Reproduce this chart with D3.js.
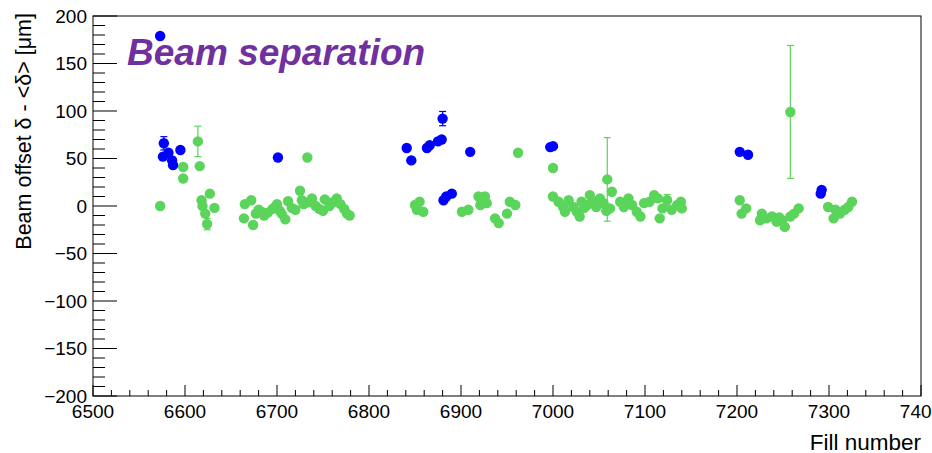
<!DOCTYPE html>
<html>
<head>
<meta charset="utf-8">
<script src="https://cdn.jsdelivr.net/npm/d3@7"></script>
<style>
  body { margin: 0; background: #fff; }
  svg { display: block; font-family: "Liberation Sans", Arial, sans-serif; }
</style>
</head>
<body>
<div id="chart"></div>
<script>
// blue points (fill, offset, error)
const blueFill = [6573, 6577, 6576, 6582, 6586, 6587, 6595, 6701,
    6841, 6846, 6863, 6866, 6875, 6879, 6880, 6910, 6881, 6884, 6890,
    6997, 7000, 7203, 7212, 7291, 7292];
const blueVal = [179, 66, 52, 56, 48, 43, 59, 51,
    61, 48, 61, 64, 68, 70, 92, 57, 6, 10, 13,
    62, 63, 57, 54, 13, 17];
const blueErr = [2, 7, 2, 2, 2, 2, 2, 2,
    2, 2, 2, 2, 2, 2, 7.5, 2, 2, 2, 2,
    2, 2, 2, 2, 2, 2];

// green points
const greenFill = [6573, 6598, 6598, 6614, 6616, 6627, 6618, 6619, 6632, 6622, 6624,
    6664, 6665, 6672, 6674, 6677, 6680, 6686, 6690, 6695, 6700, 6705, 6709, 6712, 6716,
    6720, 6725, 6729, 6733, 6734, 6738, 6742, 6746, 6750, 6752, 6757, 6761, 6765, 6769,
    6773, 6776, 6779, 6683, 6698, 6703, 6727,
    6850, 6855, 6852, 6859, 6901, 6908, 6919, 6926, 6921, 6928, 6937, 6941, 6950, 6953,
    6959, 6962, 6923,
    7000, 7000, 7006, 7011, 7013, 7017, 7022, 7026, 7029, 7031, 7037, 7040, 7044, 7047,
    7051, 7055, 7059, 7062, 7064, 7073, 7077, 7082, 7086, 7091, 7095, 7099, 7105, 7110,
    7114, 7116, 7119, 7124, 7129, 7135, 7139, 7140, 7034, 7049, 7058,
    7203, 7205, 7210, 7225, 7227, 7232, 7238, 7243, 7249, 7252, 7258, 7258, 7262, 7267,
    7299, 7305, 7307, 7312, 7317, 7321, 7325, 7246];
const greenVal = [0, 41, 29, 68, 42, 13, 6, 0, -2, -8, -19,
    -13, 2, 6, -20, -8, -4, -10, -7, -3, 2, -8, -14, 5, -2,
    -4, 16, 2, 51, 4, 8, 0, -3, -5, 7, 0, 4, 8, 2,
    -3, -8, -10, -6, -1, -5, 6,
    1, 4.5, -4, -6, -6, -4, 10, 10, 1, 3, -13, -18, -8, 4.5,
    1, 56, 6,
    40, 10, 4.5, -1, -6, 6, -1, -6, -11, 4.5, 1, 11.5, 4.5, -1,
    8, 3, 28, -2.5, 15, 4.5, -1, 8, 1, -6, -11, 3, 4.5, 11.5,
    8, -13, -2.5, 6, -4, 1, 4.5, -2.5, -2, 2, -5,
    6, -8, -2.5, -15, -8, -13, -11, -16.5, -15, -22, -11, 99, -8, -2.5,
    -1, -13, -4, -8, -4, -1, 4.5, -12];
const greenErr = [2, 2, 2, 16, 2, 2, 2, 2, 2, 2, 6,
    2, 2, 2, 2, 2, 2, 2, 2, 2, 2, 2, 2, 2, 2,
    2, 2, 2, 2, 2, 2, 2, 2, 2, 2, 2, 2, 2, 2,
    2, 2, 2, 2, 2, 2, 2,
    2, 2, 2, 2, 2, 2, 2, 2, 2, 2, 2, 2, 2, 2,
    2, 2, 2,
    2, 2, 2, 2, 2, 2, 2, 2, 2, 2, 2, 2, 2, 2,
    2, 2, 44, 2, 2, 2, 2, 2, 2, 2, 2, 2, 2, 2,
    2, 2, 2, 6, 2, 2, 2, 2, 2, 2, 2,
    2, 2, 2, 2, 2, 2, 2, 2, 2, 2, 2, 70, 2, 2,
    2, 2, 2, 2, 2, 2, 2, 2];

const xTicks = [6500, 6600, 6700, 6800, 6900, 7000, 7100, 7200, 7300, 7400];
const yTicks = [-200, -150, -100, -50, 0, 50, 100, 150, 200];

const width = 932, height = 453;
const margin = {top: 16, right: 11, bottom: 57, left: 93};
const plotW = width - margin.left - margin.right,
    plotH = height - margin.top - margin.bottom;

const blueColor = "#0000ff",
    greenColor = "#5ad45a";

let x = d3.scaleLinear().domain([6500, 7400]).range([0, plotW]);
let y = d3.scaleLinear().domain([-200, 200]).range([plotH, 0]);

const svg = d3.select("#chart").append("svg")
    .attr("width", width)
    .attr("height", height);

const plot = svg.append("g")
    .attr("transform", `translate(${margin.left},${margin.top})`);

// frame
plot.append("rect")
    .attr("width", plotW)
    .attr("height", plotH)
    .style("fill", "none")
    .style("stroke", "#000")
    .style("stroke-width", 1);

// y axis ticks: major every 50, minor every 10
const yMinor = d3.range(-200, 201, 10).filter(v => v % 50 !== 0);
plot.append("g").selectAll("line")
    .data(yMinor).enter().append("line")
    .attr("x1", 0).attr("x2", 12)
    .attr("y1", d => y(d)).attr("y2", d => y(d))
    .style("stroke", "#000");
plot.append("g").selectAll("line")
    .data(yTicks).enter().append("line")
    .attr("x1", 0).attr("x2", 24)
    .attr("y1", d => y(d)).attr("y2", d => y(d))
    .style("stroke", "#000");
plot.append("g").selectAll("text")
    .data(yTicks).enter().append("text")
    .attr("x", -6)
    .attr("y", d => y(d))
    .attr("dy", "0.35em")
    .attr("text-anchor", "end")
    .attr("font-size", 19)
    .text(d => d < 0 ? "\u2212" + Math.abs(d) : d);

// x axis ticks: major every 100, minor every 20
const xMinor = d3.range(6500, 7401, 20).filter(v => v % 100 !== 0);
plot.append("g").selectAll("line")
    .data(xMinor).enter().append("line")
    .attr("x1", d => x(d)).attr("x2", d => x(d))
    .attr("y1", plotH).attr("y2", plotH - 6)
    .style("stroke", "#000");
plot.append("g").selectAll("line")
    .data(xTicks).enter().append("line")
    .attr("x1", d => x(d)).attr("x2", d => x(d))
    .attr("y1", plotH).attr("y2", plotH - 11)
    .style("stroke", "#000");
plot.append("g").selectAll("text")
    .data(xTicks).enter().append("text")
    .attr("x", d => x(d))
    .attr("y", plotH + 22)
    .attr("text-anchor", "middle")
    .attr("font-size", 19)
    .text(d => d);

// axis titles
svg.append("text")
    .attr("text-anchor", "end")
    .attr("transform", "translate(31,13) rotate(-90)")
    .attr("font-size", 21.5)
    .text("Beam offset \u03b4 - <\u03b4> [\u03bcm]");

svg.append("text")
    .attr("text-anchor", "end")
    .attr("x", margin.left + plotW)
    .attr("y", 450)
    .attr("font-size", 22.5)
    .text("Fill number");

// title
svg.append("text")
    .attr("x", 127)
    .attr("y", 65)
    .attr("font-size", 37)
    .attr("font-weight", "bold")
    .attr("font-style", "italic")
    .style("fill", "#7030a0")
    .text("Beam separation");

function drawSeries(fills, vals, errs, color) {
    const data = fills.map((f, i) => ({x: f, y: vals[i], e: errs[i]}));
    const g = plot.append("g");
    const bars = g.selectAll("g").data(data.filter(d => d.e > 4)).enter().append("g");
    bars.append("line")
        .attr("x1", d => x(d.x)).attr("x2", d => x(d.x))
        .attr("y1", d => y(d.y - d.e)).attr("y2", d => y(d.y + d.e))
        .style("stroke", color).style("stroke-width", 1.2);
    [-1, 1].forEach(function (s) {
        bars.append("line")
            .attr("x1", d => x(d.x) - 3.5).attr("x2", d => x(d.x) + 3.5)
            .attr("y1", d => y(d.y + s * d.e)).attr("y2", d => y(d.y + s * d.e))
            .style("stroke", color).style("stroke-width", 1.2);
    });
    g.selectAll("circle").data(data).enter().append("circle")
        .attr("cx", d => x(d.x))
        .attr("cy", d => y(d.y))
        .attr("r", 5.2)
        .style("fill", color);
}

drawSeries(greenFill, greenVal, greenErr, greenColor);
drawSeries(blueFill, blueVal, blueErr, blueColor);
</script>
</body>
</html>
